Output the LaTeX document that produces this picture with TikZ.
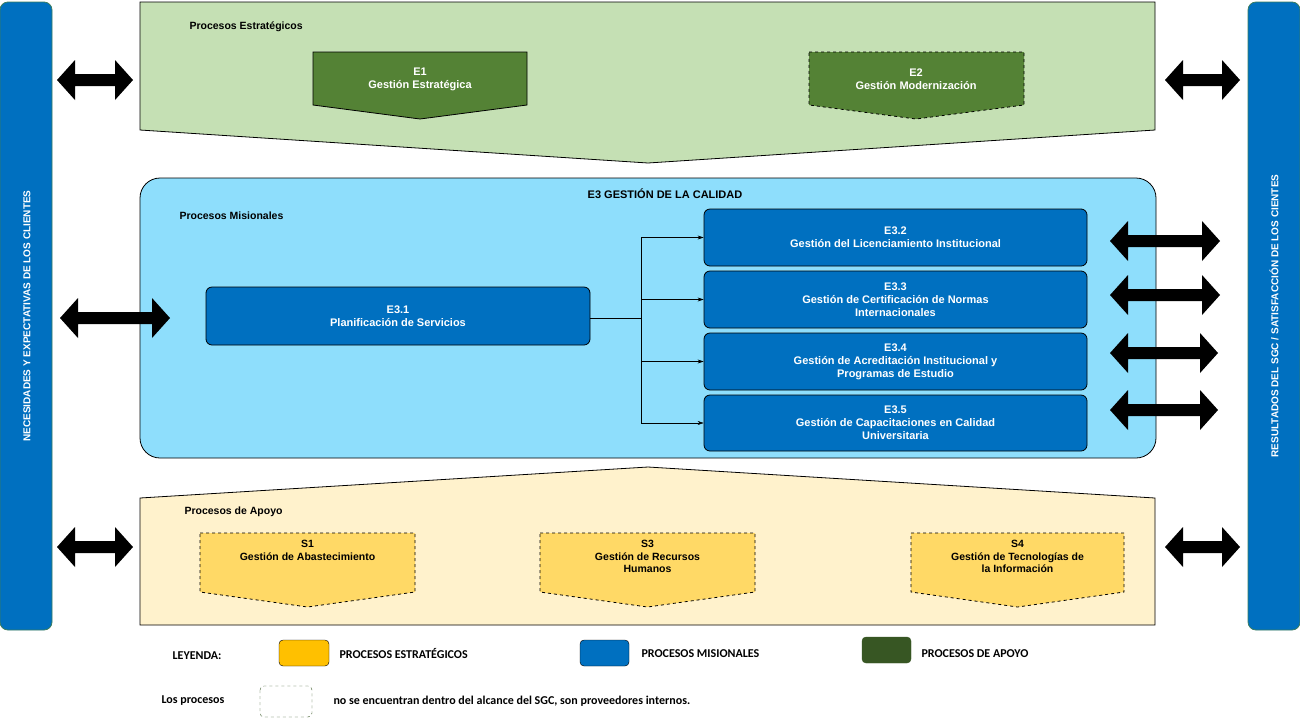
\documentclass[tikz,border=0pt]{standalone}
\usepackage{fontspec}
\setmainfont{Liberation Sans}
\newfontfamily\legfont{Carlito}
\usetikzlibrary{arrows.meta}
\definecolor{azul}{RGB}{0,112,192}
\definecolor{celeste}{RGB}{142,222,252}
\definecolor{verdeclaro}{RGB}{197,224,180}
\definecolor{verde}{RGB}{84,130,53}
\definecolor{verdeosc}{RGB}{55,86,35}
\definecolor{crema}{RGB}{255,242,204}
\definecolor{amarillo}{RGB}{255,217,102}
\definecolor{naranja}{RGB}{255,192,0}
\tikzset{
  barra/.style={draw=verde!70!azul,fill=azul,rounded corners=8pt,line width=0.8},
  proc/.style={draw=black,fill=azul,rounded corners=6pt,line width=0.8,text=white,font=\bfseries\fontsize{11}{13}\selectfont,align=center},
  conn/.style={-{Stealth[length=6pt,width=4pt]},line width=0.5},
  titulo/.style={font=\bfseries\fontsize{10.5}{12}\selectfont,anchor=west},
  leyenda/.style={font=\legfont\bfseries\fontsize{12}{14}\selectfont},
}
\newcommand{\dblarrow}[3]{% x1, x2, y
  \fill[black] (#1,#3) -- (#1+18,#3-20) -- (#1+18,#3-6) -- (#2-18,#3-6) -- (#2-18,#3-20) -- (#2,#3)
    -- (#2-18,#3+20) -- (#2-18,#3+6) -- (#1+18,#3+6) -- (#1+18,#3+20) -- cycle;}
\begin{document}
\begin{tikzpicture}[x=1pt,y=1pt,yscale=-1]
\useasboundingbox[fill=white] (0,0) rectangle (1300,724);

% barras laterales
\draw[barra] (0,2) rectangle (52,630);
\node[rotate=90,text=white,font=\bfseries\fontsize{10}{12}\selectfont] (nec) at (27,316) {NECESIDADES Y EXPECTATIVAS DE LOS CLIENTES};
\draw[barra] (1248,2) rectangle (1300,630);
\node[rotate=90,text=white,font=\bfseries\fontsize{10}{12}\selectfont] (res) at (1274,316) {RESULTADOS DEL SGC / SATISFACCIÓN DE LOS CIENTES};

% procesos estrategicos
\draw[fill=verdeclaro,line width=0.8] (140,2) -- (1155,2) -- (1155,130) -- (648,163) -- (140,130) -- cycle;
\node[titulo] (pe) at (186,27) {Procesos Estratégicos};
\draw[fill=verde,line width=0.8] (313,52) -- (527,52) -- (527,105) -- (420,119) -- (313,105) -- cycle;
\node[text=white,font=\bfseries\fontsize{11}{13}\selectfont,align=center] (e1) at (420,79) {E1\\Gestión Estratégica};
\draw[fill=verde,line width=0.8,dashed] (809,52) -- (1024,52) -- (1024,105) -- (916,119) -- (809,105) -- cycle;
\node[text=white,font=\bfseries\fontsize{11}{13}\selectfont,align=center] (e2) at (916,79) {E2\\Gestión Modernización};

% procesos misionales
\draw[fill=celeste,line width=0.8,rounded corners=20pt] (140,178) rectangle (1156,458);
\node[font=\bfseries\fontsize{11}{13}\selectfont] (e3) at (665,194) {E3 GESTIÓN DE LA CALIDAD};
\node[titulo] (pm) at (176,216) {Procesos Misionales};
\node[proc,minimum width=384pt,minimum height=58pt] (e31) at (398,316) {E3.1\\Planificación de Servicios};
\node[proc,minimum width=383pt,minimum height=57pt] (e32) at (895.5,237.5) {E3.2\\Gestión del Licenciamiento Institucional};
\node[proc,minimum width=383pt,minimum height=57pt] (e33) at (895.5,299.5) {E3.3\\Gestión de Certificación de Normas\\Internacionales};
\node[proc,minimum width=383pt,minimum height=57pt] (e34) at (895.5,361.5) {E3.4\\Gestión de Acreditación Institucional y\\Programas de Estudio};
\node[proc,minimum width=383pt,minimum height=56pt] (e35) at (895.5,423) {E3.5\\Gestión de Capacitaciones en Calidad\\Universitaria};
\coordinate (bus) at (641,318);
\draw[line width=0.5] (e31.east |- bus) -- (bus);
\foreach \n in {e32,e33,e34,e35}
  \draw[conn] (bus) |- (\n.west);

% procesos de apoyo
\draw[fill=crema,line width=0.8] (140,498) -- (648,467) -- (1155,498) -- (1155,625) -- (140,625) -- cycle;
\node[titulo] (pa) at (181,512) {Procesos de Apoyo};
\foreach \xa/\xb/\nm/\txt in {200/415/s1/{S1\\Gestión de Abastecimiento},540/755/s3/{S3\\Gestión de Recursos\\Humanos},911/1124/s4/{S4\\Gestión de Tecnologías de\\la Información}}{
  \draw[fill=amarillo,line width=0.8,dashed] (\xa,533) -- (\xb,533) -- (\xb,592) -- ({(\xa+\xb)/2},607) -- (\xa,592) -- cycle;
  \node[font=\bfseries\fontsize{10.5}{12.5}\selectfont,align=center,anchor=north] (\nm) at ({(\xa+\xb)/2},537) {\txt};
}

% flechas dobles
\dblarrow{57}{133}{80}
\dblarrow{60}{170}{318}
\dblarrow{57}{133}{547}
\dblarrow{1165}{1240}{80}
\dblarrow{1110}{1220}{241}
\dblarrow{1110}{1220}{295}
\dblarrow{1110}{1218}{353}
\dblarrow{1110}{1218}{410}
\dblarrow{1165}{1240}{547}

% leyenda
\node[leyenda] (ley) at (197,656) {LEYENDA:};
\draw[fill=naranja,rounded corners=4pt] (279,640) rectangle (329,666);
\node[leyenda,anchor=west] (lpe) at (336,653) {PROCESOS ESTRATÉGICOS};
\draw[fill=azul,rounded corners=4pt] (580,640) rectangle (629,666);
\node[leyenda,anchor=west] (lpm) at (638,654) {PROCESOS MISIONALES};
\draw[fill=verdeosc,draw=verdeosc,rounded corners=4pt] (862,637) rectangle (911,663);
\node[leyenda,anchor=west] (lpa) at (918,654) {PROCESOS DE APOYO};
\node[leyenda] (lp) at (193,701) {Los procesos};
\draw[verdeosc,dashed,rounded corners=4pt] (260,686) rectangle (312,717);
\node[leyenda,anchor=west] (lnota) at (330,701) {no se encuentran dentro del alcance del SGC, son proveedores internos.};
\end{tikzpicture}
\end{document}
